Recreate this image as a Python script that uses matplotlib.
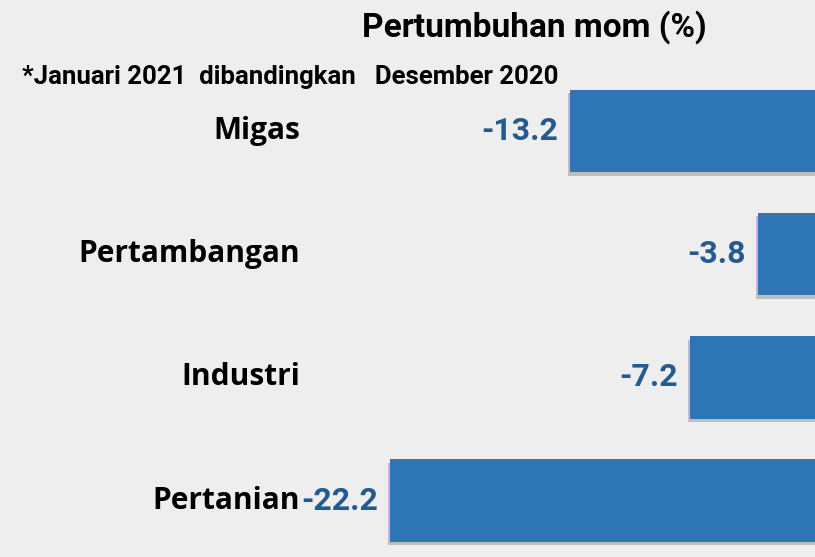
import matplotlib
matplotlib.use('Agg')
import matplotlib.pyplot as plt
import matplotlib.patheffects as pe

# ── Data ──
categories = ['Migas', 'Pertambangan', 'Industri', 'Pertanian']
growth_mom = [-13.2, -3.8, -7.2, -22.2]
value_labels = ['-13.2', '-3.8', '-7.2', '-22.2']

TITLE = 'Pertumbuhan mom (%)'
NOTE = '*Januari 2021  dibandingkan   Desember 2020'

# ── Style ──
BG = '#EEEEEE'
BAR = '#2E75B6'
VAL = '#245A8E'
NARROW = ['Roboto', 'DejaVu Sans']
WIDE = ['Open Sans', 'DejaVu Sans']

fig = plt.figure(figsize=(8.15, 5.57), dpi=100, facecolor=BG)
ax = fig.add_axes([0, 0, 1, 1])
ax.set_facecolor(BG)

ypos = list(range(len(categories)))
bars = ax.barh(ypos, growth_mom, height=0.67, color=BAR, zorder=2)
for b in bars:
    b.set_path_effects([pe.SimplePatchShadow(offset=(-1.5, -2.5), shadow_rgbFace='#666666', alpha=0.35),
                        pe.Normal()])

# zero sits just past the right edge, as in the source slide
ax.set_xlim(-41.7, -0.95)
ax.set_ylim(3.458, -1.063)
ax.axis('off')

for y, cat, v, lab in zip(ypos, categories, growth_mom, value_labels):
    ax.text(-26.7, y, cat, ha='right', va='center', fontsize=21.5,
            fontweight='bold', family=WIDE, color='black')
    ax.text(v - 0.6, y, lab, ha='right', va='center', fontsize=23,
            fontweight='bold', family=NARROW, color=VAL)

fig.text(534 / 815, 1 - 27 / 557, TITLE, ha='center', va='center',
         fontsize=24, fontweight='bold', family=NARROW, color='black')
fig.text(22 / 815, 1 - 77 / 557, NOTE, ha='left', va='center',
         fontsize=18.5, fontweight='bold', family=NARROW, color='black')

fig.savefig('out.png', dpi=100, facecolor=BG)
